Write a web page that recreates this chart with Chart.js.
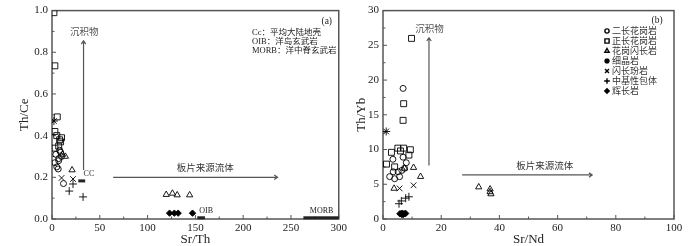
<!DOCTYPE html>
<html>
<head>
<meta charset="utf-8">
<script src="https://cdn.jsdelivr.net/npm/chart.js@4.4.1/dist/chart.umd.min.js"></script>
<style>
  body { margin: 0; background: #fff; width: 700px; height: 246px; position: relative; overflow: hidden; }
  canvas { position: absolute; top: 0; }
</style>
</head>
<body>
<canvas id="chartA" width="350" height="246" style="left:0"></canvas>
<canvas id="chartB" width="350" height="246" style="left:350px"></canvas>
<script>
// rock types (legend order)
const rockNames = ['二长花岗岩', '正长花岗岩', '花岗闪长岩', '细晶岩', '闪长玢岩', '中基性包体', '辉长岩'];

// (a) Sr/Th vs Th/Ce
const srTh_monzo = [4, 7, 9, 5, 7, 6.5, 12, 8, 10, 3];
const thCe_monzo = [0.31, 0.29, 0.32, 0.25, 0.28, 0.24, 0.17, 0.33, 0.30, 0.27];
const srTh_syeno = [2, 3, 5.5, 3, 5, 8, 10, 7, 3, 9];
const thCe_syeno = [0.99, 0.735, 0.49, 0.42, 0.40, 0.38, 0.39, 0.35, 0.34, 0.37];
const srTh_grano = [11, 14, 21, 119.5, 126, 131, 144];
const thCe_grano = [0.31, 0.30, 0.235, 0.117, 0.123, 0.115, 0.115];
const srTh_aplite = [2];
const thCe_aplite = [0.47];
const srTh_dior = [10, 22];
const thCe_dior = [0.197, 0.192];
const srTh_encl = [22, 18, 32.5];
const thCe_encl = [0.168, 0.134, 0.106];
const srTh_gabbro = [123, 128, 132, 147];
const thCe_gabbro = [0.028, 0.028, 0.028, 0.028];

// reference reservoirs (a): [x0, x1, y0, y1]
const ccBox = [27.5, 34.7, 0.18, 0.19];
const oibBox = [152, 160, 0, 0.013];
const morbBox = [263, 300, 0, 0.013];
// trend arrows (a): [x0, y0, x1, y1]
const sedArrowA = [33, 0.235, 33, 0.855];
const slabArrowA = [64, 0.2, 236, 0.2];

// (b) Sr/Nd vs Th/Yb
const srNd_monzo = [6.9, 3.4, 6.9, 8, 2.3, 4, 5.7, 7.4, 5.2, 3.5, 6.5];
const thYb_monzo = [18.8, 8.6, 8.9, 8.1, 6.1, 5.8, 6.1, 7.3, 6.8, 6.8, 7.0];
const srNd_syeno = [9.8, 7.1, 6.9, 2.9, 5.1, 7.1, 9.4, 8.9, 1.2, 4, 6];
const thYb_syeno = [26, 16.6, 14.2, 9.6, 10.2, 10.2, 9.97, 9.2, 7.9, 7.5, 9.8];
const srNd_grano = [10.5, 12.9, 3.8, 7.4, 32.9, 36.8, 36.8, 37.1];
const thYb_grano = [7.4, 6.1, 4.4, 7.3, 4.6, 4.3, 3.9, 3.6];
const srNd_aplite = [1.1];
const thYb_aplite = [12.6];
const srNd_dior = [5.7, 10.5];
const thYb_dior = [4.4, 4.85];
const srNd_encl = [5.5, 6.3, 7.8, 8.9];
const thYb_encl = [2.2, 2.6, 3.0, 3.2];
const srNd_gabbro = [5.8, 6.3, 6.8, 7.3, 7.8, 6.5, 7.0];
const thYb_gabbro = [0.75, 0.8, 0.8, 0.75, 0.8, 0.65, 0.65];

const sedArrowB = [15.8, 7.7, 15.8, 26.1];
const slabArrowB = [27.2, 6.34, 71.9, 6.34];

const symbols = [
  { pointStyle: 'circle', radius: 3, fill: 'rgba(0,0,0,0)' },
  { pointStyle: 'rect', radius: 4.2, fill: 'rgba(0,0,0,0)' },
  { pointStyle: 'triangle', radius: 3.6, fill: 'rgba(0,0,0,0)' },
  { pointStyle: 'star', radius: 4, fill: 'rgba(0,0,0,0)' },
  { pointStyle: 'crossRot', radius: 4, fill: 'rgba(0,0,0,0)' },
  { pointStyle: 'cross', radius: 4, fill: 'rgba(0,0,0,0)' },
  { pointStyle: 'rectRot', radius: 3.2, fill: '#000' }
];

const SERIF = "'Liberation Serif', serif";
const CJK = "'Liberation Serif', 'Noto Sans CJK SC', sans-serif";
const ZH = "'Noto Sans CJK SC', sans-serif";
const GRAY = '#555';

function pairs(xs, ys) {
  return xs.map((x, i) => ({ x: x, y: ys[i] }));
}

function makeDatasets(xsList, ysList) {
  return rockNames.map((name, i) => ({
    label: name,
    data: pairs(xsList[i], ysList[i]),
    pointStyle: symbols[i].pointStyle,
    pointRadius: symbols[i].radius,
    pointHoverRadius: symbols[i].radius,
    borderColor: '#000',
    backgroundColor: symbols[i].fill,
    pointBorderWidth: 0.9
  }));
}

function text(ctx, str, x, y, size, align, color, family) {
  ctx.save();
  ctx.font = size + 'px ' + (family || CJK);
  ctx.fillStyle = color || '#222';
  ctx.textAlign = align || 'left';
  ctx.textBaseline = 'middle';
  ctx.fillText(str, x, y);
  ctx.restore();
}

function arrow(chart, a) {
  const xs = chart.scales.x, ys = chart.scales.y, ctx = chart.ctx;
  const x0 = xs.getPixelForValue(a[0]), y0 = ys.getPixelForValue(a[1]);
  const x1 = xs.getPixelForValue(a[2]), y1 = ys.getPixelForValue(a[3]);
  const ang = Math.atan2(y1 - y0, x1 - x0);
  ctx.save();
  ctx.strokeStyle = GRAY;
  ctx.lineWidth = 1.2;
  ctx.beginPath();
  ctx.moveTo(x0, y0);
  ctx.lineTo(x1, y1);
  ctx.moveTo(x1 - 4 * Math.cos(ang - 0.6), y1 - 4 * Math.sin(ang - 0.6));
  ctx.lineTo(x1, y1);
  ctx.lineTo(x1 - 4 * Math.cos(ang + 0.6), y1 - 4 * Math.sin(ang + 0.6));
  ctx.stroke();
  ctx.restore();
}

function box(chart, b) {
  const xs = chart.scales.x, ys = chart.scales.y, ctx = chart.ctx;
  const x0 = xs.getPixelForValue(b[0]), x1 = xs.getPixelForValue(b[1]);
  const y0 = ys.getPixelForValue(b[2]), y1 = ys.getPixelForValue(b[3]);
  ctx.save();
  ctx.fillStyle = '#222';
  ctx.fillRect(x0, Math.min(y0, y1), x1 - x0, Math.max(3, Math.abs(y0 - y1)));
  ctx.restore();
}

// frame round plot area + inward tick marks
const framePlugin = {
  id: 'frame',
  beforeDatasetsDraw(chart) {
    const { left, right, top, bottom } = chart.chartArea;
    const ctx = chart.ctx;
    ctx.save();
    ctx.strokeStyle = GRAY;
    ctx.lineWidth = 1.5;
    ctx.strokeRect(left, top, right - left, bottom - top);
    ctx.lineWidth = 1;
    ctx.beginPath();
    chart.scales.x.ticks.forEach(t => {
      const px = chart.scales.x.getPixelForValue(t.value);
      const len = t.label !== '' ? 4 : 2.5;
      ctx.moveTo(px, bottom);
      ctx.lineTo(px, bottom - len);
    });
    chart.scales.y.ticks.forEach(t => {
      const py = chart.scales.y.getPixelForValue(t.value);
      const len = t.label !== '' ? 4 : 2.5;
      ctx.moveTo(left, py);
      ctx.lineTo(left + len, py);
    });
    ctx.stroke();
    ctx.restore();
  }
};

function axes(xMax, xStep, xMajor, yMax, yStep, yMajor, yFmt, yWidth, xTitle, yTitle, yTitlePad) {
  return {
    x: {
      type: 'linear', min: 0, max: xMax,
      grid: { display: false, drawTicks: false },
      border: { display: false },
      ticks: {
        stepSize: xStep, padding: 3, color: '#222',
        font: { family: SERIF, size: 11 },
        maxRotation: 0, autoSkip: false,
        callback: v => (Math.abs(v / xMajor - Math.round(v / xMajor)) < 1e-6 ? String(v) : '')
      },
      title: { display: true, text: xTitle, color: '#222', font: { family: SERIF, size: 13, lineHeight: 1 }, padding: { top: 0, bottom: 0 } },
      afterFit: s => { s.height = 27; }
    },
    y: {
      type: 'linear', min: 0, max: yMax,
      grid: { display: false, drawTicks: false },
      border: { display: false },
      ticks: {
        stepSize: yStep, padding: 4, color: '#222',
        font: { family: SERIF, size: 11 },
        autoSkip: false,
        callback: v => (Math.abs(v / yMajor - Math.round(v / yMajor)) < 1e-6 ? yFmt(v) : '')
      },
      title: { display: true, text: yTitle, color: '#222', font: { family: SERIF, size: 13, lineHeight: 1 }, padding: { top: yTitlePad, bottom: 0 } },
      afterFit: s => { s.width = yWidth; }
    }
  };
}

const notesA = {
  id: 'notesA',
  afterDatasetsDraw(chart) {
    const xs = chart.scales.x, ys = chart.scales.y, ctx = chart.ctx;
    box(chart, ccBox);
    box(chart, oibBox);
    box(chart, morbBox);
    arrow(chart, sedArrowA);
    arrow(chart, slabArrowA);
    text(ctx, '沉积物', xs.getPixelForValue(33.7), ys.getPixelForValue(0.9), 9.5, 'center', GRAY, ZH);
    text(ctx, '板片来源流体', xs.getPixelForValue(130.6), ys.getPixelForValue(0.25), 9.5, 'left', '#333', ZH);
    text(ctx, 'CC', xs.getPixelForValue(33), ys.getPixelForValue(0.218), 8, 'left', '#333', SERIF);
    text(ctx, 'OIB', xs.getPixelForValue(154), ys.getPixelForValue(0.04), 8, 'left', '#222', SERIF);
    text(ctx, 'MORB', xs.getPixelForValue(282), ys.getPixelForValue(0.04), 8, 'center', '#222', SERIF);
    const { right, top } = chart.chartArea;
    text(ctx, '(a)', right - 12, top + 11, 9.5, 'center', '#222', SERIF);
    text(ctx, 'Cc：平均大陆地壳', 252, 33, 8.5, 'left', '#222');
    text(ctx, 'OIB：洋岛玄武岩', 252, 42, 8.5, 'left', '#222');
    text(ctx, 'MORB：洋中脊玄武岩', 252, 51, 8.5, 'left', '#222');
  }
};

const notesB = {
  id: 'notesB',
  afterDatasetsDraw(chart) {
    const xs = chart.scales.x, ys = chart.scales.y, ctx = chart.ctx;
    arrow(chart, sedArrowB);
    arrow(chart, slabArrowB);
    text(ctx, '沉积物', xs.getPixelForValue(16), ys.getPixelForValue(27.5), 9.5, 'center', GRAY, ZH);
    text(ctx, '板片来源流体', xs.getPixelForValue(45.8), ys.getPixelForValue(7.7), 9.5, 'left', '#333', ZH);
    const { right, top } = chart.chartArea;
    text(ctx, '(b)', right - 17, top + 10, 9.5, 'center', '#222', SERIF);
    // legend
    rockNames.forEach((name, i) => {
      const y = 31 + i * 10;
      ctx.save();
      ctx.strokeStyle = '#000';
      ctx.fillStyle = i === 6 ? '#000' : 'rgba(0,0,0,0)';
      ctx.lineWidth = 1.4;
      Chart.helpers.drawPoint(ctx, {
        pointStyle: symbols[i].pointStyle,
        radius: symbols[i].radius * 0.7,
        rotation: 0,
        borderWidth: 1.4
      }, 257, y);
      ctx.restore();
      text(ctx, name, 262, y, 9, 'left', '#333', ZH);
    });
  }
};

new Chart(document.getElementById('chartA'), {
  type: 'scatter',
  data: {
    datasets: makeDatasets(
      [srTh_monzo, srTh_syeno, srTh_grano, srTh_aplite, srTh_dior, srTh_encl, srTh_gabbro],
      [thCe_monzo, thCe_syeno, thCe_grano, thCe_aplite, thCe_dior, thCe_encl, thCe_gabbro]
    )
  },
  options: {
    responsive: false,
    animation: false,
    devicePixelRatio: 1,
    layout: { padding: { top: 4, right: 5, left: 0, bottom: 0 } },
    plugins: { legend: { display: false }, tooltip: { enabled: false } },
    scales: axes(300, 25, 50, 1, 0.1, 0.2, v => v.toFixed(1), 52, 'Sr/Th', 'Th/Ce', 18)
  },
  plugins: [framePlugin, notesA]
});

new Chart(document.getElementById('chartB'), {
  type: 'scatter',
  data: {
    datasets: makeDatasets(
      [srNd_monzo, srNd_syeno, srNd_grano, srNd_aplite, srNd_dior, srNd_encl, srNd_gabbro],
      [thYb_monzo, thYb_syeno, thYb_grano, thYb_aplite, thYb_dior, thYb_encl, thYb_gabbro]
    )
  },
  options: {
    responsive: false,
    animation: false,
    devicePixelRatio: 1,
    layout: { padding: { top: 4, right: 26, left: 0, bottom: 0 } },
    plugins: { legend: { display: false }, tooltip: { enabled: false } },
    scales: axes(100, 10, 20, 30, 2.5, 5, v => String(v), 33, 'Sr/Nd', 'Th/Yb', 5)
  },
  plugins: [framePlugin, notesB]
});
</script>
</body>
</html>
